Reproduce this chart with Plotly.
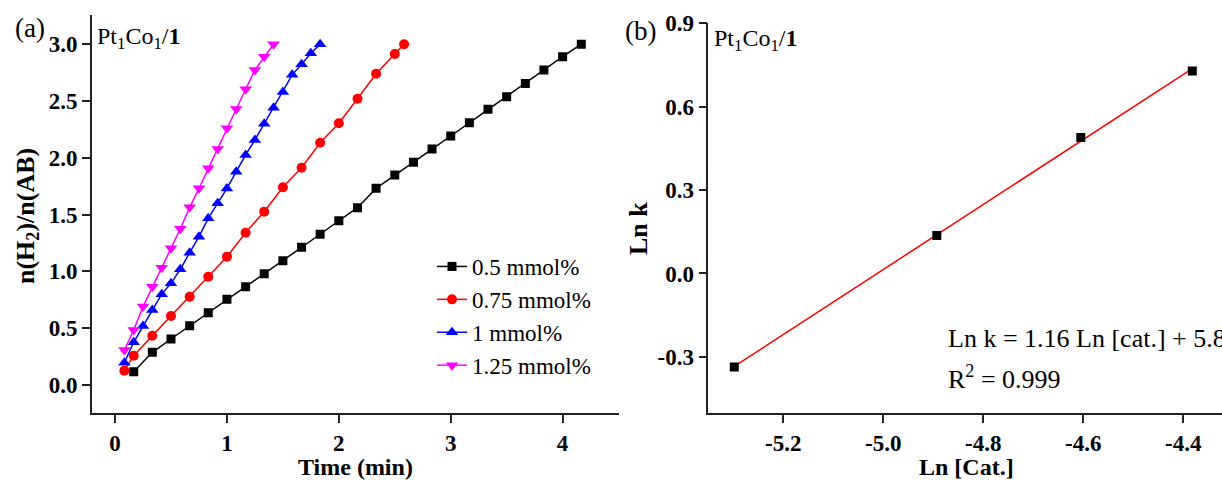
import numpy as np
import plotly.graph_objects as go

# ---------- Panel (a) data ----------
t_05 = [0.167, 0.333, 0.5, 0.667, 0.833, 1.0, 1.167, 1.333, 1.5, 1.667, 1.833, 2.0, 2.167,
        2.333, 2.5, 2.667, 2.833, 3.0, 3.167, 3.333, 3.5, 3.667, 3.833, 4.0, 4.167]
y_05 = [0.117, 0.288, 0.405, 0.522, 0.637, 0.754, 0.866, 0.98, 1.094, 1.212, 1.327, 1.446, 1.561,
        1.731, 1.849, 1.96, 2.077, 2.192, 2.309, 2.427, 2.538, 2.655, 2.773, 2.89, 3.0]

t_075 = [0.083, 0.167, 0.333, 0.5, 0.667, 0.833, 1.0, 1.167, 1.333, 1.5, 1.667, 1.833, 2.0,
         2.167, 2.333, 2.5, 2.583]
y_075 = [0.126, 0.258, 0.434, 0.607, 0.777, 0.953, 1.129, 1.341, 1.526, 1.74, 1.913, 2.133, 2.304,
         2.52, 2.74, 2.914, 3.0]

t_1 = [0.083, 0.167, 0.25, 0.333, 0.417, 0.5, 0.583, 0.667, 0.75, 0.833, 0.917, 1.0, 1.083,
       1.167, 1.25, 1.333, 1.417, 1.5, 1.583, 1.667, 1.75, 1.833]
y_1 = [0.196, 0.376, 0.519, 0.66, 0.80, 0.895, 1.018, 1.165, 1.306, 1.467, 1.60, 1.73, 1.878,
       2.025, 2.157, 2.30, 2.44, 2.58, 2.73, 2.823, 2.92, 3.0]

t_125 = [0.083, 0.167, 0.25, 0.333, 0.417, 0.5, 0.583, 0.667, 0.75, 0.833, 0.917, 1.0, 1.083,
         1.167, 1.25, 1.333, 1.417]
y_125 = [0.308, 0.484, 0.69, 0.865, 1.033, 1.203, 1.375, 1.564, 1.731, 1.907, 2.077, 2.26, 2.43,
         2.603, 2.773, 2.89, 3.0]

series_names = ["0.5 mmol%", "0.75 mmol%", "1 mmol%", "1.25 mmol%"]

# ---------- Panel (b) data ----------
ln_cat = [-5.298, -4.893, -4.605, -4.382]
ln_k = [-0.336, 0.137, 0.489, 0.728]
eq_text = "Ln k = 1.16 Ln [cat.] + 5.81"
r2_text = "R<sup>2</sup> = 0.999"

xticks_a = [0, 1, 2, 3, 4]
yticks_a = [0.0, 0.5, 1.0, 1.5, 2.0, 2.5, 3.0]
xticks_b = [-5.2, -5.0, -4.8, -4.6, -4.4]
yticks_b = [-0.3, 0.0, 0.3, 0.6, 0.9]

FONT = "Liberation Serif"
W, H = 1222, 480

def px_x(p):
    return p / W

def px_y(p):
    return (H - p) / H

fig = go.Figure()

styles = [
    dict(color="#000000", symbol="square", size=9),
    dict(color="#FF0000", symbol="circle", size=10),
    dict(color="#0000FF", symbol="triangle-up", size=11),
    dict(color="#FF00FF", symbol="triangle-down", size=11),
]
for (tx, ty), name, st in zip([(t_05, y_05), (t_075, y_075), (t_1, y_1), (t_125, y_125)],
                              series_names, styles):
    fig.add_trace(go.Scatter(
        x=tx, y=ty, mode="lines+markers", name=name,
        line=dict(color=st["color"], width=1.5),
        marker=dict(color=st["color"], symbol=st["symbol"], size=st["size"], line=dict(width=0)),
        xaxis="x", yaxis="y", showlegend=True,
    ))

# fit line for panel (b)
slope, intercept = np.polyfit(ln_cat, ln_k, 1)
xfit = np.array([min(ln_cat), max(ln_cat)])
fig.add_trace(go.Scatter(
    x=xfit, y=slope * xfit + intercept, mode="lines",
    line=dict(color="#FF0000", width=1.5), xaxis="x2", yaxis="y2", showlegend=False,
))
fig.add_trace(go.Scatter(
    x=ln_cat, y=ln_k, mode="markers",
    marker=dict(color="#000000", symbol="square", size=9, line=dict(width=0)),
    xaxis="x2", yaxis="y2", showlegend=False,
))

axis_common = dict(
    showline=True, linecolor="#222222", linewidth=1.6, mirror=False,
    ticks="outside", ticklen=8, tickwidth=1.6, tickcolor="#222222",
    showgrid=False, zeroline=False,
    tickfont=dict(family=FONT, size=23, color="#000000", weight="bold"),
)

fig.update_layout(
    width=W, height=H,
    margin=dict(l=0, r=0, t=0, b=0, autoexpand=False),
    paper_bgcolor="white", plot_bgcolor="white",
    xaxis=dict(domain=[px_x(92), px_x(619)], range=[-0.206, 4.504], anchor="y",
               tickvals=xticks_a, ticktext=[str(v) for v in xticks_a], **axis_common),
    yaxis=dict(domain=[px_y(413.3), px_y(15)], range=[-0.249, 3.257], anchor="x",
               tickvals=yticks_a, ticktext=[f"{v:.1f}" for v in yticks_a], **axis_common),
    xaxis2=dict(domain=[px_x(708.3), 1.0], range=[-5.35, -4.3226], anchor="y2",
                tickvals=xticks_b, ticktext=[f"{v:.1f}" for v in xticks_b], **axis_common),
    yaxis2=dict(domain=[px_y(413.3), px_y(23.3)], range=[-0.503, 0.9], anchor="x2",
                tickvals=yticks_b, ticktext=[f"{v:.1f}" for v in yticks_b], **axis_common),
    legend=dict(
        x=px_x(432), y=px_y(245), xanchor="left", yanchor="top",
        font=dict(family=FONT, size=23, color="#000000"),
        bgcolor="rgba(0,0,0,0)", borderwidth=0, tracegroupgap=0,
        itemwidth=30,
    ),
    showlegend=True,
)

def ann(text, x, y, size, bold=False, angle=0, xanchor="center", yanchor="middle"):
    fig.add_annotation(
        text=text, x=px_x(x), y=px_y(y), xref="paper", yref="paper",
        xanchor=xanchor, yanchor=yanchor, showarrow=False, textangle=angle,
        font=dict(family=FONT, size=size, color="#000000", weight="bold" if bold else "normal"),
    )

# panel labels
ann("(a)", 13, 28, 27, xanchor="left")
ann("(b)", 623, 31, 27, xanchor="left")
ann("Pt<sub>1</sub>Co<sub>1</sub>/<b>1</b>", 95, 38, 24, xanchor="left")
ann("Pt<sub>1</sub>Co<sub>1</sub>/<b>1</b>", 712, 40, 24, xanchor="left")

# axis titles
ann("n(H<sub>2</sub>)/n(AB)", 27, 216, 26, bold=True, angle=-90)
ann("Time (min)", 355.5, 467, 24, bold=True)
ann("Ln k", 638, 229, 26, bold=True, angle=-90)
ann("Ln [Cat.]", 966, 467, 24, bold=True)

# equation
ann(eq_text, 946, 338, 26, xanchor="left")
ann(r2_text, 946, 377, 26, xanchor="left")

fig.write_html(
    "out.html",
    config={"displayModeBar": False},
    post_script="document.body.style.margin='0px';document.body.style.overflow='hidden';",
)
